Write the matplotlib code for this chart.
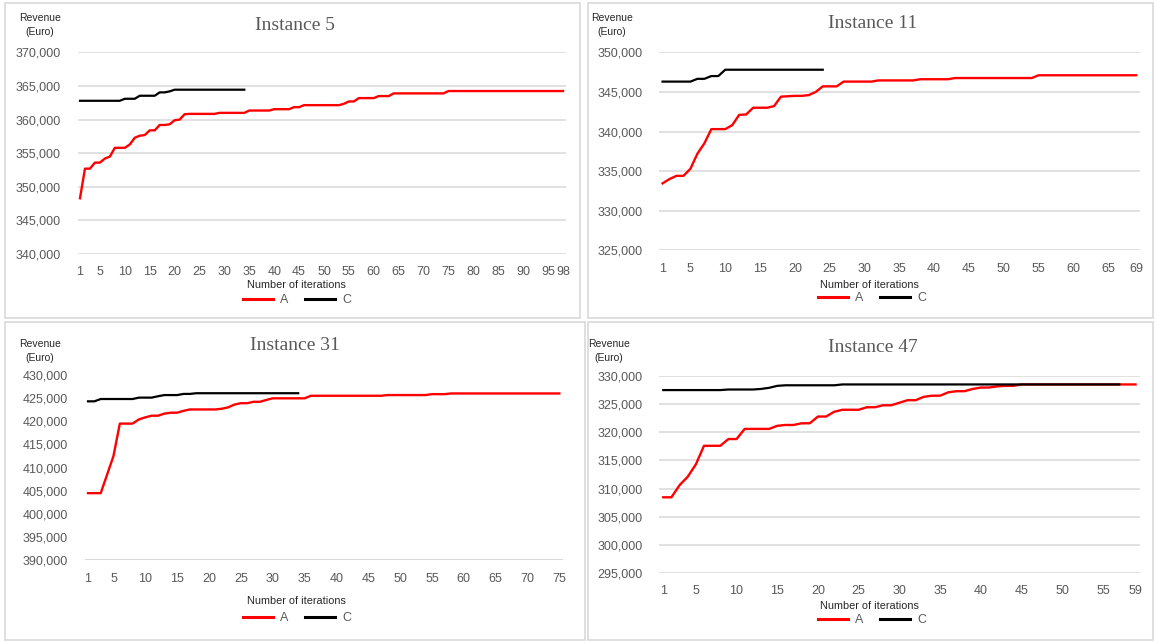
import matplotlib
matplotlib.use('Agg')
import matplotlib.pyplot as plt
from matplotlib.patches import Rectangle
from matplotlib.lines import Line2D
from matplotlib.ticker import FuncFormatter

W, H = 1156, 643

# Revenue per iteration, method A (red) and method C (black)
inst5_a = [348300, 352700, 352700, 353600, 353600, 354200, 354500, 355800, 355800, 355800,
           356300, 357300, 357600, 357700, 358400, 358400, 359200, 359200, 359300, 359900,
           360000, 360800, 360850, 360850, 360850, 360850, 360850, 360850, 361000, 361000,
           361000, 361000, 361000, 361000, 361350, 361350, 361350, 361350, 361350, 361550,
           361550, 361550, 361550, 361850, 361850, 362150, 362150, 362150, 362150, 362150,
           362150, 362150, 362150, 362350, 362700, 362700, 363200, 363200, 363200, 363200,
           363500, 363500, 363500, 363900, 363900, 363900, 363900, 363900, 363900, 363900,
           363900, 363900, 363900, 363900, 364250, 364250, 364250, 364250, 364250, 364250,
           364250, 364250, 364250, 364250, 364250, 364250, 364250, 364250, 364250, 364250,
           364250, 364250, 364250, 364250, 364250, 364250, 364250, 364250]
inst5_c = [362800, 362800, 362800, 362800, 362800, 362800, 362800, 362800, 362800, 363100,
           363100, 363100, 363550, 363550, 363550, 363550, 364050, 364050, 364200, 364450,
           364450, 364450, 364450, 364450, 364450, 364450, 364450, 364450, 364450, 364450,
           364450, 364450, 364450, 364450]

inst11_a = [333450, 334000, 334400, 334400, 335300, 337200, 338500, 340300, 340300, 340300,
            340800, 342100, 342150, 343000, 343000, 343000, 343200, 344400, 344450, 344500,
            344500, 344600, 345000, 345700, 345700, 345700, 346300, 346300, 346300, 346300,
            346300, 346450, 346450, 346450, 346450, 346450, 346450, 346600, 346600, 346600,
            346600, 346600, 346750, 346750, 346750, 346750, 346750, 346750, 346750, 346750,
            346750, 346750, 346750, 346750, 347100, 347100, 347100, 347100, 347100, 347100,
            347100, 347100, 347100, 347100, 347100, 347100, 347100, 347100, 347100]
inst11_c = [346300, 346300, 346300, 346300, 346300, 346650, 346650, 347000, 347000, 347800,
            347800, 347800, 347800, 347800, 347800, 347800, 347800, 347800, 347800, 347800,
            347800, 347800, 347800, 347800]

inst31_a = [404500, 404500, 404500, 408500, 412500, 419500, 419500, 419500, 420400, 420850,
            421200, 421200, 421650, 421850, 421850, 422250, 422550, 422550, 422550, 422550,
            422550, 422700, 423000, 423600, 423900, 423900, 424200, 424200, 424600, 424950,
            424950, 424950, 424950, 424950, 424950, 425500, 425500, 425500, 425500, 425500,
            425500, 425500, 425500, 425500, 425500, 425500, 425500, 425650, 425650, 425650,
            425650, 425650, 425650, 425650, 425850, 425850, 425850, 426000, 426000, 426000,
            426000, 426000, 426000, 426000, 426000, 426000, 426000, 426000, 426000, 426000,
            426000, 426000, 426000, 426000, 426000]
inst31_c = [424300, 424300, 424800, 424800, 424800, 424800, 424800, 424800, 425100, 425100,
            425100, 425400, 425650, 425650, 425650, 425900, 425900, 426050, 426050, 426050,
            426050, 426050, 426050, 426050, 426050, 426050, 426050, 426050, 426050, 426050,
            426050, 426050, 426050, 426050]

inst47_a = [308450, 308450, 310600, 312100, 314300, 317600, 317600, 317600, 318800, 318800,
            320600, 320600, 320600, 320600, 321150, 321300, 321300, 321600, 321600, 322800,
            322800, 323650, 324000, 324000, 324000, 324450, 324450, 324800, 324800, 325250,
            325700, 325700, 326300, 326500, 326500, 327100, 327300, 327300, 327700, 327950,
            327950, 328150, 328250, 328250, 328500, 328500, 328500, 328500, 328500, 328500,
            328500, 328500, 328500, 328500, 328500, 328500, 328500, 328500, 328500]
inst47_c = [327500, 327500, 327500, 327500, 327500, 327500, 327500, 327500, 327600, 327600,
            327600, 327600, 327700, 327900, 328250, 328350, 328350, 328350, 328350, 328350,
            328350, 328350, 328500, 328500, 328500, 328500, 328500, 328500, 328500, 328500,
            328500, 328500, 328500, 328500, 328500, 328500, 328500, 328500, 328500, 328500,
            328500, 328500, 328500, 328500, 328500, 328500, 328500, 328500, 328500, 328500,
            328500, 328500, 328500, 328500, 328500, 328500, 328500]

titles = ['Instance 5', 'Instance 11', 'Instance 31', 'Instance 47']
ylims = [(340000, 370000), (325000, 350000), (390000, 430000), (295000, 330000)]
xticks = [[1] + list(range(5, 96, 5)) + [98],
          [1] + list(range(5, 66, 5)) + [69],
          [1] + list(range(5, 76, 5)),
          [1] + list(range(5, 56, 5)) + [59]]

# pixel layout: chart frame, plot area (left, top, right, bottom), text anchors
frames = [(5, 3, 580, 318), (588, 3, 1153, 318), (5, 322, 585, 640), (588, 322, 1153, 640)]
plots = [(77.5, 52.4, 565.5, 254), (659.1, 52.3, 1139.6, 250.3),
         (84.8, 374.9, 562.5, 560.4), (659.2, 376, 1139.6, 573)]
title_xy = [(295, 25), (873, 23), (295, 346), (873, 347)]
ylab_xy = [(40, 25), (612, 25), (40, 351), (609, 351)]
xlab_xy = [(296, 285), (869, 285), (296, 601), (869, 606)]
leg_xy = [(297, 300), (872, 298), (297, 618), (872, 620)]
grid_on = [True, True, False, True]

GRAY = '#595959'
SANS = ['Liberation Sans', 'DejaVu Sans']

fig = plt.figure(figsize=(W / 100, H / 100), dpi=100)
fig.patch.set_facecolor('white')


def fx(px):
    return px / W


def fy(py):
    return 1 - py / H


series = [(inst5_a, inst5_c), (inst11_a, inst11_c), (inst31_a, inst31_c), (inst47_a, inst47_c)]

for k in range(4):
    a, c = series[k]

    # light frame around each chart
    x0, y0, x1, y1 = frames[k]
    fig.patches.append(Rectangle((fx(x0), fy(y1)), fx(x1 - x0), (y1 - y0) / H,
                                 transform=fig.transFigure, facecolor='none',
                                 edgecolor='#d9d9d9', linewidth=1.2, zorder=-1))

    l, t, r, b = plots[k]
    ax = fig.add_axes([fx(l), fy(b), fx(r - l), (b - t) / H])
    ax.set_facecolor('none')

    ax.plot(range(1, len(a) + 1), a, color='#ff0000', linewidth=1.7, zorder=3)
    ax.plot(range(1, len(c) + 1), c, color='black', linewidth=1.6, zorder=4)

    ax.set_xlim(0.5, len(a) + 0.5)
    lo, hi = ylims[k]
    ax.set_ylim(lo, hi)
    ax.set_yticks(range(lo, hi + 1, 5000))
    ax.set_xticks(xticks[k])
    ax.yaxis.set_major_formatter(FuncFormatter(lambda v, _: f'{v:,.0f}'))

    for s in ax.spines.values():
        s.set_visible(False)
    if grid_on[k]:
        ax.grid(axis='y', color='#d9d9d9', linewidth=1.1)
    else:
        ax.axhline(lo, color='#d9d9d9', linewidth=1.4, zorder=1)
    ax.tick_params(length=0, labelsize=9, labelcolor=GRAY)
    ax.tick_params(axis='y', pad=12)
    ax.tick_params(axis='x', pad=9)
    for lab in ax.get_xticklabels() + ax.get_yticklabels():
        lab.set_family(SANS)

    fig.text(fx(title_xy[k][0]), fy(title_xy[k][1]), titles[k], ha='center', va='center',
             fontsize=14, color=GRAY, family=['Liberation Serif', 'DejaVu Serif'])
    fig.text(fx(ylab_xy[k][0]), fy(ylab_xy[k][1]), 'Revenue\n(Euro)', ha='center', va='center',
             fontsize=7.5, color='#262626', linespacing=1.45, family=SANS)
    fig.text(fx(xlab_xy[k][0]), fy(xlab_xy[k][1]), 'Number of iterations', ha='center',
             va='center', fontsize=7.8, color='#262626', family=SANS)

    handles = [Line2D([], [], color='#ff0000', linewidth=2.2),
               Line2D([], [], color='black', linewidth=2.2)]
    leg = ax.legend(handles, ['A', 'C'], loc='center', ncol=2, frameon=False,
                    bbox_to_anchor=(fx(leg_xy[k][0]), fy(leg_xy[k][1])),
                    bbox_transform=fig.transFigure, fontsize=9, handlelength=2.4,
                    handletextpad=0.6, columnspacing=1.3)
    for txt in leg.get_texts():
        txt.set_color(GRAY)
        txt.set_family(SANS)

fig.savefig('out.png', dpi=100, facecolor='white')
